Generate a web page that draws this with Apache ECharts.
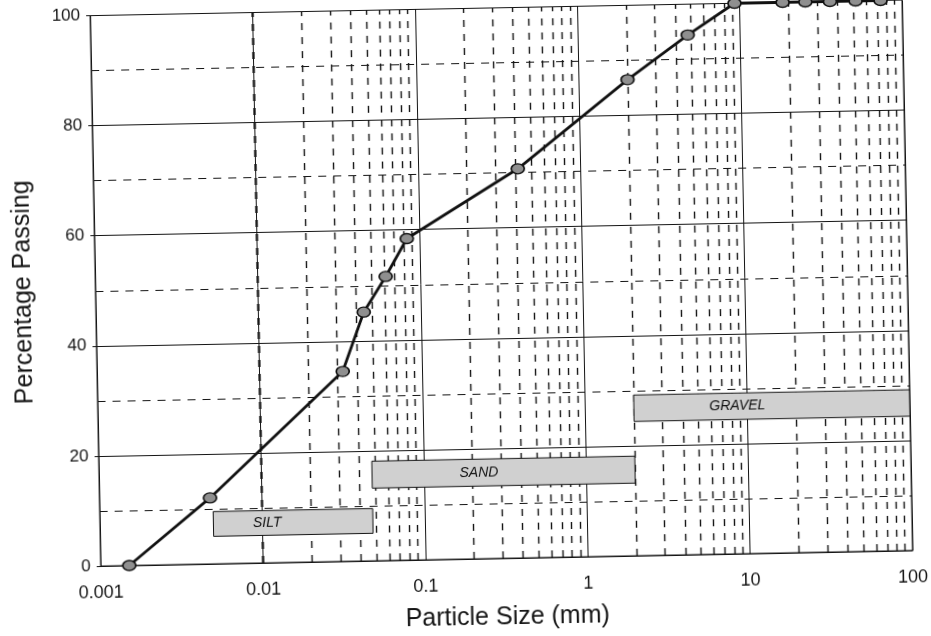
<!DOCTYPE html>
<html>
<head>
<meta charset="utf-8">
<script src="https://cdn.jsdelivr.net/npm/echarts@6/dist/echarts.min.js"></script>
<style>
  html, body { margin: 0; padding: 0; background: #ffffff; }
  #chart { width: 931px; height: 636px; transform: rotate(-1.1deg); transform-origin: 50% 50%; }
</style>
</head>
<body>
<div id="chart"></div>
<script>
// ---- data ----
const particleSize = [0.0015, 0.0048, 0.0326, 0.0446, 0.0615, 0.0838, 0.412, 2.0, 4.75, 9.3, 18.4, 25.4, 36, 51.8, 73.8];
const percentPassing = [0, 12, 34.5, 45.2, 51.6, 58.4, 70.7, 86.5, 94.4, 100, 100, 100, 100, 100, 100];

const xTickValues = [0.001, 0.01, 0.1, 1, 10, 100];
const xTickLabels = ['0.001', '0.01', '0.1', '1', '10', '100'];
const minorMultipliers = [2, 3, 4, 5, 6, 7, 8, 9];

const zoneNames = ['SILT', 'SAND', 'GRAVEL'];
const zoneXFrom = [0.005, 0.048, 2.0];
const zoneXTo = [0.048, 2.0, 100];
const zoneYFrom = [5, 13.2, 24.4];
const zoneYTo = [9.5, 18.1, 29.2];

// ---- build ----
const minorXLines = [];
xTickValues.slice(0, -1).forEach(d => minorMultipliers.forEach(m => minorXLines.push(+(d * m).toPrecision(3))));

const points = particleSize.map((x, i) => [x, percentPassing[i]]);
const labelOffsets = [35, 83, 71];

const zones = zoneNames.map((n, i) => [
  { name: n, xAxis: zoneXFrom[i], yAxis: zoneYFrom[i],
    label: { offset: [labelOffsets[i], 0] } },
  { xAxis: zoneXTo[i], yAxis: zoneYTo[i] }
]);

const FONT = "'Liberation Sans', Arial, sans-serif";
const INK = '#141414';

const chart = echarts.init(document.getElementById('chart'), null, { renderer: 'canvas' });
chart.setOption({
  animation: false,
  backgroundColor: '#ffffff',
  grid: { left: 96, right: 23, top: 6, bottom: 75, show: true, borderColor: INK, borderWidth: 1, backgroundColor: 'transparent' },
  xAxis: {
    type: 'log', logBase: 10, min: 0.001, max: 100,
    name: 'Particle Size (mm)', nameLocation: 'middle', nameGap: 47,
    nameTextStyle: { fontFamily: FONT, fontSize: 25, color: INK },
    axisLine: { show: true, lineStyle: { color: INK, width: 1 } },
    axisTick: { show: false },
    axisLabel: {
      fontFamily: FONT, fontSize: 18, color: INK, margin: 18,
      formatter: v => {
        const i = xTickValues.findIndex(t => Math.abs(Math.log10(t) - Math.log10(v)) < 0.01);
        return i >= 0 ? xTickLabels[i] : '';
      }
    },
    splitLine: { show: true, lineStyle: { color: INK, width: 1, type: 'solid' } }
  },
  yAxis: {
    type: 'value', min: 0, max: 100, interval: 20,
    name: 'Percentage Passing', nameLocation: 'middle', nameGap: 59,
    nameTextStyle: { fontFamily: FONT, fontSize: 25, color: INK },
    axisLine: { show: true, lineStyle: { color: INK, width: 1 } },
    axisTick: { show: true, length: 4, lineStyle: { color: INK } },
    axisLabel: { fontFamily: FONT, fontSize: 17, color: INK, margin: 10 },
    splitLine: { show: true, lineStyle: { color: INK, width: 1, type: 'solid' } },
    minorTick: { show: false, splitNumber: 2 },
    minorSplitLine: { show: true, lineStyle: { color: INK, width: 1, type: [8, 7] } }
  },
  series: [
    {
      name: 'minorGrid', type: 'line', data: [], z: 1, silent: true,
      markLine: {
        z: 1, silent: true, symbol: ['none', 'none'], animation: false,
        label: { show: false },
        lineStyle: { color: INK, width: 1.4, type: [7, 7] },
        data: minorXLines.map(v => ({ xAxis: v }))
      }
    },
    {
      name: 'zones', type: 'line', data: [], z: 3, silent: true,
      markArea: {
        z: 3, silent: true,
        itemStyle: { color: '#d0d0d0', borderColor: INK, borderWidth: 1, opacity: 1 },
        label: { show: true, position: 'insideLeft', fontFamily: FONT, fontSize: 14, fontStyle: 'italic', color: '#111' },
        data: zones
      }
    },
    {
      name: 'Passing', type: 'line', data: points, z: 5,
      lineStyle: { color: '#111', width: 2.8 },
      symbol: 'circle', symbolSize: [13, 10], showAllSymbol: true,
      itemStyle: { color: '#8f8f8f', borderColor: '#111', borderWidth: 1.5 }
    }
  ]
});
</script>
</body>
</html>
